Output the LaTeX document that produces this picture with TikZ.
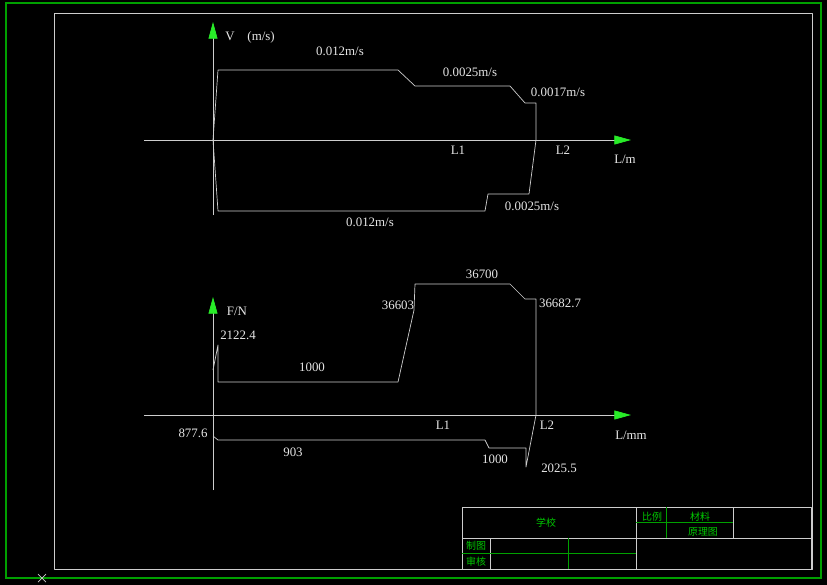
\documentclass[tikz,border=0pt]{standalone}
\usepackage{fontspec}
\setmainfont{Liberation Serif}
\newfontfamily\cjk{Noto Sans CJK SC}
\usetikzlibrary{arrows.meta}
\definecolor{cadgray}{RGB}{205,205,205}
\definecolor{framegreen}{RGB}{0,160,0}
\definecolor{tipgreen}{RGB}{40,235,40}
\definecolor{textgreen}{RGB}{0,200,0}
\definecolor{labelwhite}{RGB}{230,230,230}
\begin{document}
\begin{tikzpicture}[x=0.03cm, y=-0.03cm, line width=0.6pt,
        curve/.style = {draw=cadgray, line join=round},
        axis/.style = {draw=cadgray, -{Triangle[length=0.5cm, width=0.27cm, color=tipgreen]}},
        lbl/.style = {text=labelwhite, font=\fontsize{11}{13}\selectfont, inner sep=0pt},
        cn/.style = {text=textgreen, font=\cjk\fontsize{8.5}{10}\selectfont, inner sep=0pt},
        gline/.style = {draw=framegreen}]
    \fill[black] (0,0) rectangle (827,585);
    \useasboundingbox (0,0) rectangle (827,585);
    % frames
    \draw[gline, line width=1pt] (6,3) rectangle (821,578);
    \draw[curve] (54,13) rectangle (812,569);
    \draw[draw=cadgray] (38,574) -- (46,582) (38,582) -- (46,574);
    % velocity diagram
    \draw[axis] (144,140) -- (631,140);
    \draw[axis] (213,215) -- (213,22);
    \draw[curve] (213,140) -- (218,70) -- (398,70) -- (415,86) -- (510,86) -- (525,103)
        -- (536,103) -- (536,140) -- (529,194) -- (488,194) -- (485,211) -- (218,211) -- cycle;
    \node[lbl] (vaxis) at (250,37) {V\quad(m/s)};
    \node[lbl] (laxis) at (625,159) {L/m};
    \node[lbl] (l1top) at (458,150) {L1};
    \node[lbl] (l2top) at (563,150) {L2};
    \node[lbl] (v1) at (340,51) {0.012m/s};
    \node[lbl] (v2) at (470,72) {0.0025m/s};
    \node[lbl] (v3) at (558,92) {0.0017m/s};
    \node[lbl] (v4) at (532,206) {0.0025m/s};
    \node[lbl] (v5) at (370,222) {0.012m/s};
    % force diagram
    \draw[axis] (144,415) -- (631,415);
    \draw[axis] (213,490) -- (213,297);
    \draw[curve] (213,370) -- (218,345) -- (218,382) -- (398,382) -- (414,310) -- (415,284)
        -- (510,284) -- (525,299) -- (536,299) -- (536,415) -- (526,467) -- (526,448)
        -- (489,448) -- (485,440) -- (218,440) -- (213,436);
    \node[lbl] (faxis) at (237,311) {F/N};
    \node[lbl] (lmm) at (631,435) {L/mm};
    \node[lbl] (l1bot) at (443,425) {L1};
    \node[lbl] (l2bot) at (547,425) {L2};
    \node[lbl] (f1) at (238,335) {2122.4};
    \node[lbl] (f2) at (312,367) {1000};
    \node[lbl] (f3) at (398,305) {36603};
    \node[lbl] (f4) at (482,274) {36700};
    \node[lbl] (f5) at (560,303) {36682.7};
    \node[lbl] (f6) at (193,433) {877.6};
    \node[lbl] (f7) at (293,452) {903};
    \node[lbl] (f8) at (495,459) {1000};
    \node[lbl] (f9) at (559,468) {2025.5};
    % title block
    \draw[curve] (462,507) rectangle (811,569);
    \draw[curve] (462,538) -- (811,538) (636,507) -- (636,569) (490,538) -- (490,569) (733,507) -- (733,538);
    \draw[gline] (666,507) -- (666,538) (636,522) -- (733,522) (462,553) -- (636,553) (568,538) -- (568,569);
    \node[cn] (school) at (546,523) {学校};
    \node[cn] (scale) at (652,517) {比例};
    \node[cn] (material) at (700,517) {材料};
    \node[cn] (principle) at (703,532) {原理图};
    \node[cn] (drawn) at (476,546) {制图};
    \node[cn] (checked) at (476,562) {审核};
\end{tikzpicture}
\end{document}
